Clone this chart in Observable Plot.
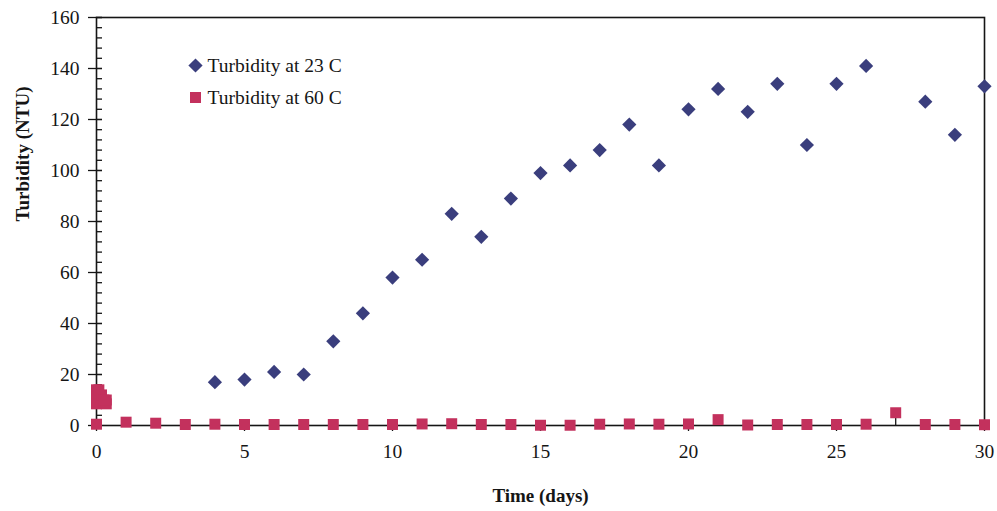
<!DOCTYPE html>
<html>
<head>
<meta charset="utf-8">
<script src="https://cdn.jsdelivr.net/npm/d3@7"></script>
<script src="https://cdn.jsdelivr.net/npm/@observablehq/plot@0.6"></script>
<style>
  html, body { margin: 0; padding: 0; background: #fff; }
  #chart svg { display: block; }
</style>
</head>
<body>
<div id="chart"></div>
<script>
// Turbidity at 23 C (days 4–30)
const daysWarm = [4, 5, 6, 7, 8, 9, 10, 11, 12, 13, 14, 15, 16, 17, 18, 19, 20, 21, 22, 23, 24, 25, 26, 28, 29, 30];
const turbWarm = [17, 18, 21, 20, 33, 44, 58, 65, 83, 74, 89, 99, 102, 108, 118, 102, 124, 132, 123, 134, 110, 134, 141, 127, 114, 133];

// Turbidity at 60 C: first hours, then daily readings
const daysHot = [0, 0, 0, 0.08, 0.17, 0.25, 0.33, 0.33,
  0, 1, 2, 3, 4, 5, 6, 7, 8, 9, 10, 11, 12, 13, 14, 15, 16, 17, 18, 19, 20, 21, 22, 23, 24, 25, 26, 27, 28, 29, 30];
const turbHot = [14, 11, 8.5, 14, 12, 10, 8.5, 10,
  0.5, 1.3, 0.9, 0.4, 0.5, 0.4, 0.4, 0.4, 0.4, 0.4, 0.4, 0.6, 0.7, 0.4, 0.4, 0.1, 0.1, 0.5, 0.6, 0.5, 0.6, 2.3, 0.2, 0.4, 0.4, 0.4, 0.5, 5, 0.4, 0.4, 0.3];

// error bar on the day-27 reading at 60 C
const errDay = [27];
const errLow = [0];
const errHigh = [5];

// axis ticks
const xTicks = [0, 5, 10, 15, 20, 25, 30];
const yMajor = [0, 20, 40, 60, 80, 100, 120, 140, 160];
const yMinor = d3.range(0, 161, 4);

const legendLabels = ["Turbidity at 23 C", "Turbidity at 60 C"];

const BLUE = "#3a3e7d";
const RED = "#c3315d";
const INK = "#151515";
const SERIF = "'Liberation Serif', 'Times New Roman', serif";

const warm = daysWarm.map((d, i) => ({day: d, ntu: turbWarm[i]}));
const hot = daysHot.map((d, i) => ({day: d, ntu: turbHot[i]}));
const err = errDay.map((d, i) => ({day: d, lo: errLow[i], hi: errHigh[i]}));

const chart = Plot.plot({
  width: 997,
  height: 511,
  marginLeft: 96,
  marginRight: 13,
  marginTop: 17,
  marginBottom: 86,
  style: {fontFamily: SERIF, color: INK, background: "#fff"},
  x: {domain: [0, 30]},
  y: {domain: [0, 160]},
  marks: [
    // x axis: outward ticks and labels
    Plot.axisX({ticks: xTicks, tickSize: 6, tickPadding: 13, fontSize: 19.5, stroke: INK, strokeWidth: 1.3, label: null}),
    // y axis labels only; ticks are drawn below
    Plot.axisY({ticks: yMajor, tickSize: 0, tickPadding: 17, fontSize: 19.5, label: null}),
    // minor y ticks, pointing into the plot
    Plot.tickY(yMinor, {y: d => d, insetRight: 882, stroke: INK, strokeWidth: 1.3}),
    // major y ticks, crossing the axis
    Plot.tickY(yMajor, {y: d => d, insetLeft: -8, insetRight: 882, stroke: INK, strokeWidth: 1.3}),
    Plot.frame({stroke: INK, strokeWidth: 1.6}),
    Plot.ruleX(err, {x: "day", y1: "lo", y2: "hi", stroke: INK, strokeWidth: 1.3}),
    Plot.dot(hot, {x: "day", y: "ntu", symbol: "square", r: 6.2, fill: RED, stroke: "none"}),
    Plot.dot(warm, {x: "day", y: "ntu", symbol: "diamond2", r: 6.4, fill: BLUE, stroke: "none"}),
    // axis titles
    Plot.text(["Time (days)"], {frameAnchor: "bottom", dy: 70, lineAnchor: "middle", fontWeight: "bold", fontSize: 19, fill: INK}),
    Plot.text(["Turbidity (NTU)"], {frameAnchor: "left", dx: -74, rotate: -90, lineAnchor: "middle", fontWeight: "bold", fontSize: 19, fill: INK}),
    // legend
    Plot.dot([legendLabels[0]], {frameAnchor: "top-left", dx: 99, dy: 48, symbol: "diamond2", r: 6.4, fill: BLUE, stroke: "none"}),
    Plot.text([legendLabels[0]], {frameAnchor: "top-left", dx: 111, dy: 48, text: d => d, textAnchor: "start", lineAnchor: "middle", fontSize: 19.5, fill: INK}),
    Plot.dot([legendLabels[1]], {frameAnchor: "top-left", dx: 99, dy: 80, symbol: "square", r: 6.2, fill: RED, stroke: "none"}),
    Plot.text([legendLabels[1]], {frameAnchor: "top-left", dx: 111, dy: 80, text: d => d, textAnchor: "start", lineAnchor: "middle", fontSize: 19.5, fill: INK})
  ]
});

document.getElementById("chart").appendChild(chart);
</script>
</body>
</html>
